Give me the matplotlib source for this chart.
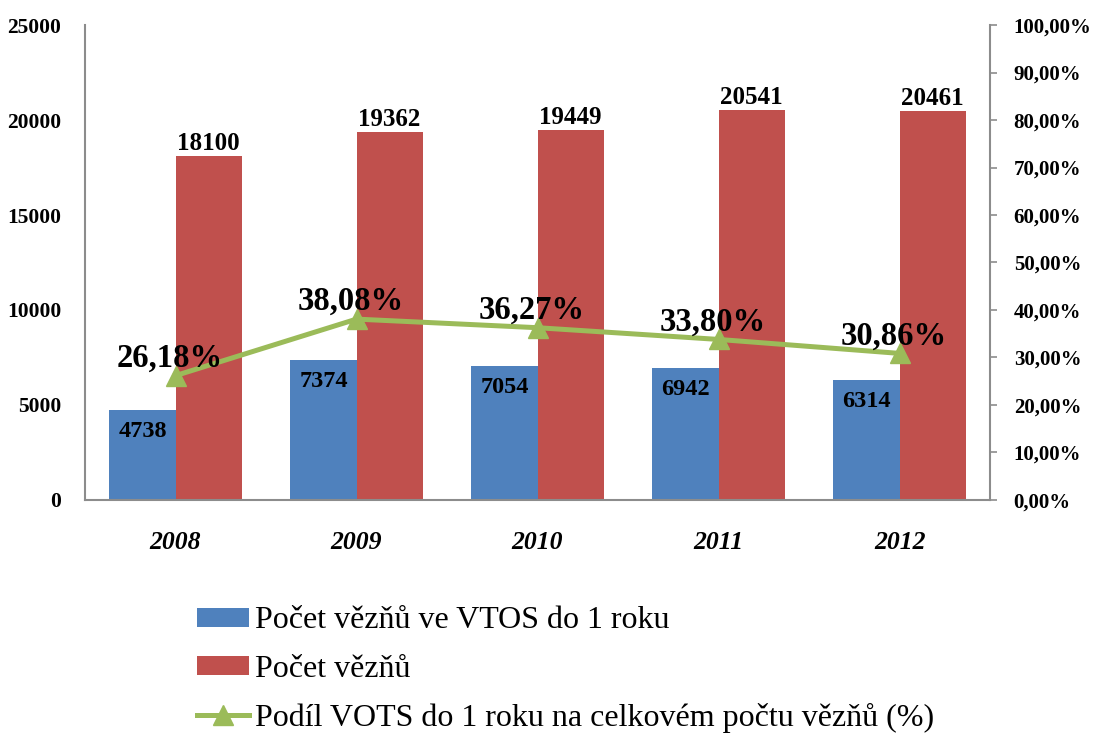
import matplotlib
matplotlib.use("Agg")
import matplotlib.pyplot as plt
import numpy as np

# data
years = ["2008", "2009", "2010", "2011", "2012"]
vtos_1y = [4738, 7374, 7054, 6942, 6314]
prisoners = [18100, 19362, 19449, 20541, 20461]
share_pct = [26.18, 38.08, 36.27, 33.80, 30.86]

blue = "#4F81BD"
red = "#C0504D"
green = "#9BBB59"
grey = "#8C8C8C"

plt.rcParams["font.family"] = ["Liberation Serif", "DejaVu Serif"]

fig = plt.figure(figsize=(10.94, 7.36), dpi=100)
ax = fig.add_axes([0.0777, 0.3207, 0.8273, 0.6453])
ax2 = ax.twinx()

x = np.arange(len(years))
w = 0.365

b1 = ax.bar(x - w / 2, vtos_1y, w, color=blue, label="Počet vězňů ve VTOS do 1 roku", zorder=2)
b2 = ax.bar(x + w / 2, prisoners, w, color=red, label="Počet vězňů", zorder=2)

# value labels
for rect, v in zip(b1, vtos_1y):
    ax.annotate(str(v), (rect.get_x() + rect.get_width() / 2, v),
                xytext=(0, -11), textcoords="offset pixels",
                ha="center", va="top", fontsize=17.5, fontweight="bold")
for rect, v in zip(b2, prisoners):
    ax.annotate(str(v), (rect.get_x() + rect.get_width() / 2, v),
                xytext=(0, 1), textcoords="offset pixels",
                ha="center", va="bottom", fontsize=18, fontweight="bold")

ax.set_xlim(-0.5, len(years) - 0.5)
ax.set_ylim(0, 25000)
ax.set_yticks(range(0, 25001, 5000))
ax.set_xticks(x)
ax.set_xticklabels(years, fontsize=18.5, fontweight="bold", fontstyle="italic")
ax.tick_params(axis="x", length=0, pad=22)
ax.tick_params(axis="y", length=0, pad=17, labelsize=15.5)
for lab in ax.get_yticklabels():
    lab.set_fontweight("bold")

share = [p / 100 for p in share_pct]
ln, = ax2.plot(x, share, color=green, lw=3.6, marker="^", markersize=15,
               label="Podíl VOTS do 1 roku na celkovém počtu vězňů (%)", zorder=3)
for xi, p, s in zip(x, share_pct, share):
    ax2.annotate(f"{p:.2f}%".replace(".", ","), (xi, s),
                 xytext=(-6, 2), textcoords="offset pixels",
                 ha="center", va="bottom", fontsize=23.5, fontweight="bold", zorder=4)

ax2.set_ylim(0, 1)
ax2.set_yticks(np.linspace(0, 1, 11))
ax2.set_yticklabels([f"{t:.2f}%".replace(".", ",") for t in np.arange(0, 101, 10)])
ax2.tick_params(axis="y", length=5, width=1.2, color=grey, pad=12, labelsize=15)
for lab in ax2.get_yticklabels():
    lab.set_fontweight("bold")

for a in (ax, ax2):
    a.spines["top"].set_visible(False)
    for s in ("left", "right", "bottom"):
        a.spines[s].set_color(grey)
        a.spines[s].set_linewidth(1.5)
ax.spines["right"].set_visible(False)
ax2.spines["left"].set_visible(False)
ax2.spines["bottom"].set_visible(False)

fig.legend(handles=[b1, b2, ln], loc="upper left", bbox_to_anchor=(0.18, 0.176),
           frameon=False, fontsize=23, handlelength=1.63, handleheight=0.53,
           handletextpad=0.2, labelspacing=0.6, borderaxespad=0, borderpad=0)

fig.savefig("out.png", dpi=100)
